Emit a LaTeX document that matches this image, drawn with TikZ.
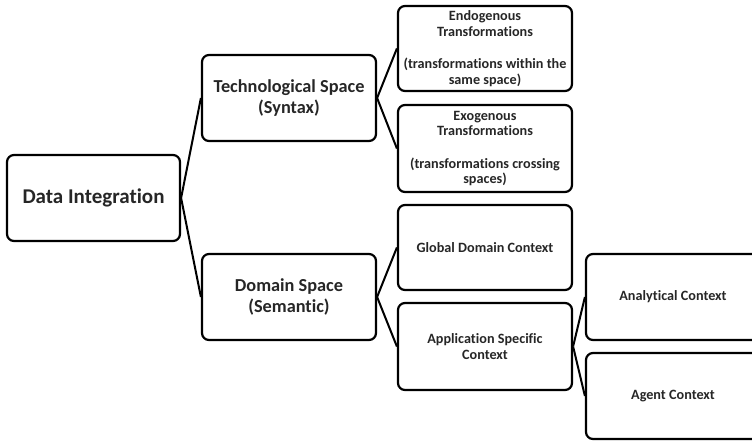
\documentclass[tikz,border=0pt]{standalone}
\usepackage{fontspec}
\setmainfont{Carlito}[Ligatures=NoCommon]
\usepackage{xcolor}

\definecolor{txtgray}{HTML}{262626}
\tikzset{
    box/.style={draw, line width=2.2pt, rounded corners=7pt, minimum width=174pt, minimum height=86pt, align=center, font=\bfseries, text=txtgray, inner sep=2pt},
    bigtxt/.style={font=\fontsize{21}{24}\selectfont\bfseries},
    midtxt/.style={font=\fontsize{18.3}{20.5}\selectfont\bfseries},
    smalltxt/.style={font=\fontsize{14.2}{15.5}\selectfont\bfseries},
    link/.style={line width=2pt}
}

\begin{document}
\begin{tikzpicture}[x=1pt, y=-1pt]
        \useasboundingbox (0,0) rectangle (752,440);
        \clip (0,0) rectangle (752,440);
        \node[box, bigtxt, minimum width=173pt] (integ) at (93.5,198) {Data Integration};
        \node[box, midtxt] (techspace) at (289,98) {Technological Space\\(Syntax)};
        \node[box, midtxt] (domspace) at (289,297) {Domain Space\\(Semantic)};
        \node[box, smalltxt, minimum height=85pt] (endo) at (485,48.5) {Endogenous\\Transformations\\[17pt](transformations within the\\same space)};
        \node[box, smalltxt, minimum height=87pt] (exo) at (485,148.5) {Exogenous\\Transformations\\[17pt](transformations crossing\\spaces)};
        \node[box, smalltxt, minimum height=85pt] (global) at (485,247.5) {Global Domain Context};
        \node[box, smalltxt, minimum height=87pt] (appspec) at (485,346.5) {Application Specific\\Context};
        \node[box, smalltxt] (analytic) at (673,297) {Analytical Context};
        \node[box, smalltxt] (agent) at (673,396) {Agent Context};
        % tree links
        \foreach \from/\to in {integ/techspace, integ/domspace, techspace/endo, techspace/exo, domspace/global, domspace/appspec, appspec/analytic, appspec/agent} {
            \draw[link] (\from.east) -- (\to.west);
        }
    \end{tikzpicture}
\end{document}
